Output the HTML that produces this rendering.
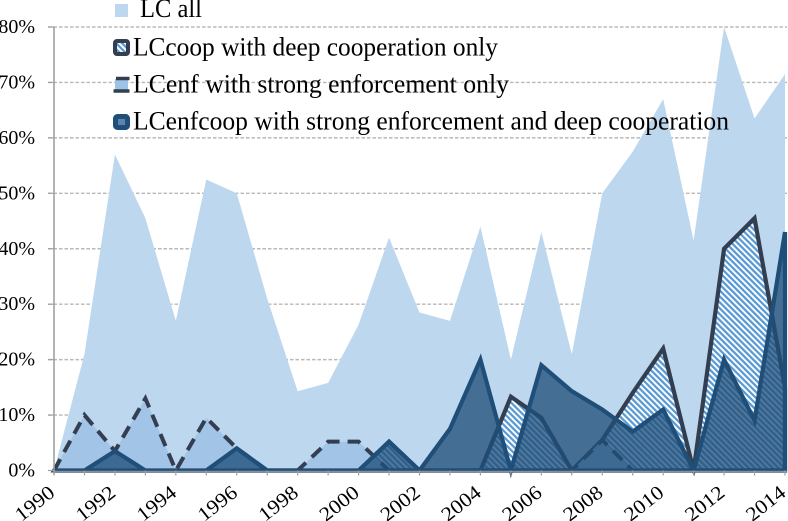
<!DOCTYPE html>
<html>
<head>
<meta charset="utf-8">
<style>
html,body{margin:0;padding:0;background:#fff;}
svg{display:block;}
text{font-family:"Liberation Serif",serif;fill:#000;}
</style>
</head>
<body>
<svg id="chart" width="788" height="521" viewBox="0 0 788 521" xmlns="http://www.w3.org/2000/svg">
<defs>
<pattern id="hatch" patternUnits="userSpaceOnUse" width="4.2" height="4.2" patternTransform="rotate(-45)">
<rect width="4.2" height="4.2" fill="#ffffff"/>
<rect width="2.3" height="4.2" fill="#5b9bd5"/>
</pattern>
</defs>
<g id="grid"></g>
<g id="series"></g>
<g id="axes"></g>
<g>
<rect x="115" y="4" width="13" height="13" fill="#bdd7ee"/>
<text x="140" y="17" font-size="26" textLength="62" lengthAdjust="spacingAndGlyphs">LC all</text>
<rect x="115" y="41" width="13" height="13" rx="2" fill="url(#hatch)" stroke="#333f50" stroke-width="4"/>
<text x="133" y="55.5" font-size="26" textLength="365" lengthAdjust="spacingAndGlyphs">LCcoop with deep cooperation only</text>
<rect x="115" y="79" width="13" height="12" fill="#9dc3e6"/>
<path d="M116 78.5H129.5M113.5 91H129.5" stroke="#333f50" stroke-width="3.5" fill="none"/>
<text x="133" y="92.5" font-size="26" textLength="376" lengthAdjust="spacingAndGlyphs">LCenf with strong enforcement only</text>
<rect x="115.5" y="116.5" width="12" height="11" rx="2" fill="#5f83ab" stroke="#1f4e79" stroke-width="5"/>
<text x="133" y="129.5" font-size="26" textLength="596" lengthAdjust="spacingAndGlyphs">LCenfcoop with strong enforcement and deep cooperation</text>
</g>
</svg>
<script>
const years = [1990,1991,1992,1993,1994,1995,1996,1997,1998,1999,2000,2001,2002,2003,2004,2005,2006,2007,2008,2009,2010,2011,2012,2013,2014];
const lcAll = [0,21,57,45.5,27,52.5,50,31,14.3,15.8,26.3,42,28.5,27,44,20,43,21,50,57.5,67,41.5,80,63.5,71.5];
const lcCoop = [0,0,0,0,0,0,0,0,0,0,0,5.2,0,0,0,13.3,9.5,0,5.5,14,22,0,40,45.5,15];
const lcEnf = [0,10,3.5,13,0,9.5,4,0,0,5.2,5.2,0,0,0,0,0,0,0,5.5,0,0,0,0,0,0];
const lcEnfCoop = [0,0,3.5,0,0,0,4,0,0,0,0,5.2,0,7.5,20,0,19,14.3,11,7,11,0,20,9,43];
const yTicks = [0,10,20,30,40,50,60,70,80];
const xTickLabels = [1990,1992,1994,1996,1998,2000,2002,2004,2006,2008,2010,2012,2014];

const NS = 'http://www.w3.org/2000/svg';
const X0 = 54, X1 = 785, Y0 = 470.5, Y80 = 27;
function xScale(year){ return X0 + (year - years[0]) * (X1 - X0) / (years[years.length-1] - years[0]); }
function yScale(v){ return Y0 - v * (Y0 - Y80) / 80; }
function mk(tag, attrs, parent){
  const el = document.createElementNS(NS, tag);
  for (const k in attrs) el.setAttribute(k, attrs[k]);
  parent.appendChild(el);
  return el;
}
function areaPath(vals){
  let d = 'M' + xScale(years[0]) + ' ' + yScale(0);
  vals.forEach(function(v,i){ d += 'L' + xScale(years[i]).toFixed(2) + ' ' + yScale(v).toFixed(2); });
  d += 'L' + xScale(years[years.length-1]) + ' ' + yScale(0) + 'Z';
  return d;
}
const grid = document.getElementById('grid');
const series = document.getElementById('series');
const axes = document.getElementById('axes');

yTicks.forEach(function(t){
  if (t === 0) return;
  const g = mk('line', {x1:48, x2:X1+2, y1:yScale(t), y2:yScale(t), stroke:'#b8b8b8', 'stroke-width':1.4, 'stroke-dasharray':'3.5 2'}, grid);
  
  
});

const aAll = mk('path', {d:areaPath(lcAll), fill:'#bdd7ee'}, series);



const aCoop = mk('path', {d:areaPath(lcCoop), fill:'url(#hatch)', stroke:'#333f50', 'stroke-width':4.2, 'stroke-linejoin':'miter'}, series);



const aEnfFill = mk('path', {d:areaPath(lcEnf), fill:'#a2c5e7'}, series);



const aEnfLine = mk('path', {d:areaPath(lcEnf), fill:'none', stroke:'#333f50', 'stroke-width':4, 'stroke-dasharray':'13 8'}, series);



const aEnfCoop = mk('path', {d:areaPath(lcEnfCoop), fill:'#1f4e79', 'fill-opacity':0.77, stroke:'#1f4e79', 'stroke-width':4.2, 'stroke-linejoin':'miter'}, series);



const yAxis = mk('line', {x1:X0, x2:X0, y1:Y80, y2:Y0+4, stroke:'#a0a0a0', 'stroke-width':1.6}, axes);



const xAxis = mk('line', {x1:X0, x2:X1+2, y1:Y0+1, y2:Y0+1, stroke:'#8a8f96', 'stroke-width':1.6}, axes);



yTicks.forEach(function(t){
  const tick = mk('line', {x1:48, x2:X0, y1:yScale(t), y2:yScale(t), stroke:'#a0a0a0', 'stroke-width':1.2}, axes);
  
  
  const label = mk('text', {x:35, y:yScale(t)+6, 'font-size':20, 'text-anchor':'end'}, axes);
  label.textContent = t + '%';
  
  
});

years.forEach(function(yr){
  const tick = mk('line', {x1:xScale(yr), x2:xScale(yr), y1:Y0, y2:Y0+5, stroke:'#a0a0a0', 'stroke-width':1.2}, axes);
  
  
});

xTickLabels.forEach(function(yr){
  const x = xScale(yr) + 2, y = 495;
  const label = mk('text', {x:x, y:y, 'font-size':20, 'text-anchor':'end', transform:'rotate(-38 ' + x + ' ' + y + ')', textLength:44, lengthAdjust:'spacingAndGlyphs'}, axes);
  label.textContent = yr;
  
  
});
</script>
</body>
</html>
